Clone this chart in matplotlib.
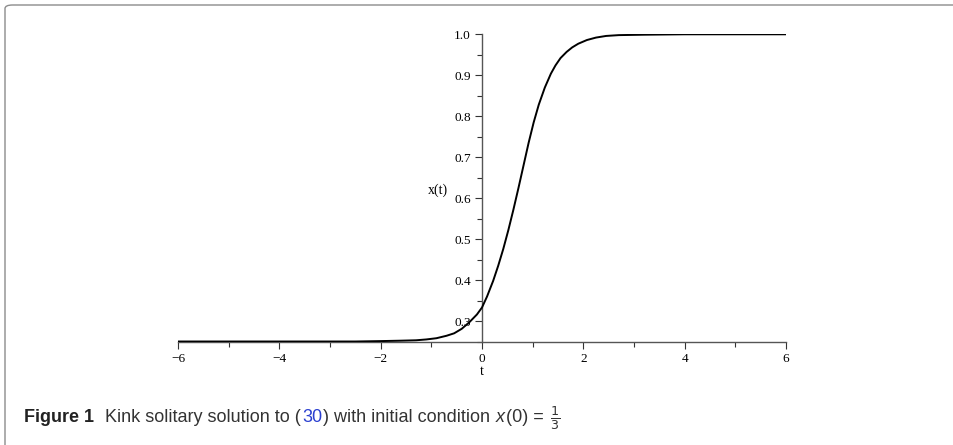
import matplotlib.pyplot as plt
from matplotlib.patches import FancyBboxPatch
from matplotlib.ticker import MultipleLocator


# values
t = [-6, -4, -3, -2.5, -2, -1.6, -1.3, -1.1, -0.9, -0.7, -0.55, -0.4, -0.25,
     -0.1, 0, 0.1, 0.22, 0.32, 0.42, 0.52, 0.62, 0.72, 0.82, 0.92, 1.02, 1.12,
     1.24, 1.36, 1.45, 1.55, 1.67, 1.78, 1.9, 2.07, 2.25, 2.45, 2.7, 3.2, 4,
     5, 6]
x_t = [0.250, 0.250, 0.250, 0.250, 0.251, 0.252, 0.253, 0.255, 0.258, 0.264,
       0.270, 0.281, 0.297, 0.316, 0.333, 0.360, 0.398, 0.435, 0.476, 0.522,
       0.572, 0.625, 0.680, 0.735, 0.785, 0.828, 0.870, 0.904, 0.924, 0.942,
       0.957, 0.968, 0.977, 0.986, 0.992, 0.996, 0.998, 0.999, 1.0, 1.0, 1.0]

x_ticks = [-6, -4, -2, 0, 2, 4, 6]
x_tick_labels = ["\u22126", "\u22124", "\u22122", "0", "2", "4", "6"]
y_ticks = [0.3, 0.4, 0.5, 0.6, 0.7, 0.8, 0.9, 1.0]

W, H = 954, 445
fig = plt.figure(figsize=(W / 100, H / 100), dpi=100)

# grey frame with rounded top-left corner
frame = FancyBboxPatch((5 / W, -30 / H), (W + 30) / W, (H - 5 + 30) / H,
                       boxstyle="round,pad=0,rounding_size=0.008",
                       transform=fig.transFigure, fill=False,
                       edgecolor="#8c8c8c", linewidth=1.0, clip_on=False)
fig.patches.append(frame)

ax = fig.add_axes([178 / W, (H - 341.5) / H, 608 / W, 307.2 / H])
ax.plot(t, x_t, color="black", linewidth=1.4, zorder=3)
ax.set_xlim(-6, 6)
ax.set_ylim(0.25, 1.0)

for side in ["top", "right"]:
    ax.spines[side].set_visible(False)
ax.spines["left"].set_position(("data", 0))
for side in ["left", "bottom"]:
    ax.spines[side].set_color("#555555")
    ax.spines[side].set_linewidth(1.0)

serif = ["Liberation Serif", "DejaVu Serif"]
ax.set_xticks(x_ticks)
ax.set_xticklabels(x_tick_labels, family=serif, fontsize=9.5)
ax.set_yticks(y_ticks)
ax.set_yticklabels([f"{v:.1f}" for v in y_ticks], family=serif, fontsize=9.5)
ax.xaxis.set_minor_locator(MultipleLocator(1))
ax.yaxis.set_minor_locator(MultipleLocator(0.05))
ax.tick_params(which="both", direction="out", color="#333333", width=0.8)
ax.tick_params(which="major", length=5, pad=3)
ax.tick_params(which="minor", length=3.5)

ax.set_xlabel("t", family=serif, fontsize=10, labelpad=0)
ax.text(-0.87, 0.62, "x(t)", family=serif, fontsize=10,
        ha="center", va="center")

# caption, written piece by piece
sans = ["Liberation Sans", "DejaVu Sans"]
renderer = fig.canvas.get_renderer()
pieces = [
    ("Figure 1", "bold", "normal", "#222222"),
    ("  Kink solitary solution to (", "normal", "normal", "#333333"),
    ("30", "normal", "normal", "#2a3fd0"),
    (") with initial condition ", "normal", "normal", "#333333"),
    ("x", "normal", "italic", "#333333"),
    ("(0) = ", "normal", "normal", "#333333"),
]
cx = 24
cy = (H - 418) / H
for text, weight, style, color in pieces:
    item = fig.text(cx / W, cy, text, family=sans, fontsize=13,
                    fontweight=weight, fontstyle=style, color=color,
                    va="center", ha="left")
    cx = item.get_window_extent(renderer).x1 + 1
fig.text(cx / W, cy, r"$\frac{1}{3}$", fontsize=13, color="#333333",
         va="center", ha="left")

fig.savefig("out.png", dpi=100)
